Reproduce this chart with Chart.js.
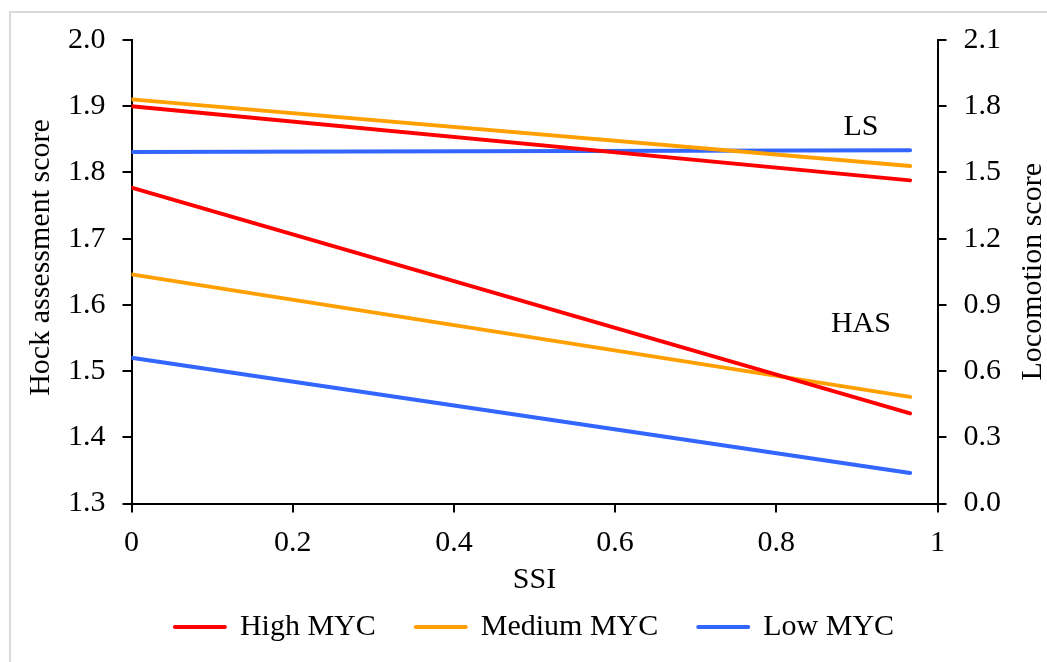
<!DOCTYPE html>
<html>
<head>
<meta charset="utf-8">
<script src="https://cdn.jsdelivr.net/npm/chart.js@4/dist/chart.umd.min.js"></script>
<style>
  html, body { margin: 0; padding: 0; background: #fff; overflow: hidden; }
  #frame { position: absolute; left: 9px; top: 11px; width: 1100px; height: 700px;
           border-left: 2px solid #d9d9d9; border-top: 2px solid #d9d9d9; box-sizing: border-box; }
  #c { position: absolute; left: 0; top: 0; width: 1047px; height: 662px; }
</style>
</head>
<body>
<div id="frame"></div>
<canvas id="c" width="1047" height="662"></canvas>
<script>
// ---- data ----
const ssi = [0, 0.966];
const hasHigh = [1.777, 1.436];
const hasMedium = [1.646, 1.461];
const hasLow = [1.520, 1.346];
const lsHigh = [1.800, 1.464];
const lsMedium = [1.831, 1.529];
const lsLow = [1.592, 1.601];

const seriesNames = ['High MYC', 'Medium MYC', 'Low MYC'];
const seriesColors = ['#ff0000', '#ffa000', '#3366ff'];

const xTicks = [0, 0.2, 0.4, 0.6, 0.8, 1];
const yLeftTicks = [1.3, 1.4, 1.5, 1.6, 1.7, 1.8, 1.9, 2.0];
const yRightTicks = [0, 0.3, 0.6, 0.9, 1.2, 1.5, 1.8, 2.1];

const annotations = [
  { text: 'LS', x: 0.905, y: 1.857 },
  { text: 'HAS', x: 0.905, y: 1.559 }
];
const xTitle = 'SSI';
const yLeftTitle = 'Hock assessment score';
const yRightTitle = 'Locomotion score';

// ---- build ----
const pts = (arr) => arr.map((v, i) => ({ x: ssi[i], y: v }));
const FONT = "'Liberation Serif', 'Times New Roman', serif";
const FS = 30;

function lineDs(label, data, color, axis) {
  return {
    label, data: pts(data), yAxisID: axis,
    borderColor: color, backgroundColor: color,
    borderWidth: 4, borderCapStyle: 'round', pointRadius: 0, tension: 0, fill: false
  };
}

const datasets = [
  lineDs(seriesNames[0], hasHigh, seriesColors[0], 'y'),
  lineDs(seriesNames[1], hasMedium, seriesColors[1], 'y'),
  lineDs(seriesNames[2], hasLow, seriesColors[2], 'y'),
  lineDs(seriesNames[0] + ' LS', lsHigh, seriesColors[0], 'y2'),
  lineDs(seriesNames[1] + ' LS', lsMedium, seriesColors[1], 'y2'),
  lineDs(seriesNames[2] + ' LS', lsLow, seriesColors[2], 'y2')
];

const axisStyle = {
  border: { display: true, color: '#000', width: 2 },
  grid: { display: true, drawOnChartArea: false, drawTicks: true, tickLength: 9, color: '#000', tickWidth: 2, lineWidth: 2 },
};

const overlay = {
  id: 'overlay',
  afterDraw(chart) {
    const { ctx, scales, chartArea } = chart;
    ctx.save();
    ctx.fillStyle = '#000';
    ctx.font = FS + 'px ' + FONT;
    ctx.textAlign = 'center';
    ctx.textBaseline = 'alphabetic';
    annotations.forEach(a => {
      ctx.fillText(a.text, scales.x.getPixelForValue(a.x), scales.y.getPixelForValue(a.y));
    });
    ctx.textBaseline = 'middle';
    // left axis title
    ctx.save();
    ctx.translate(41.5, 257.5);
    ctx.rotate(-Math.PI / 2);
    ctx.fillText(yLeftTitle, 0, 0);
    ctx.restore();
    // right axis title
    ctx.save();
    ctx.translate(1033, (chartArea.top + chartArea.bottom) / 2);
    ctx.rotate(-Math.PI / 2);
    ctx.fillText(yRightTitle, 0, 0);
    ctx.restore();
    ctx.restore();
  }
};

Chart.defaults.font.family = FONT;
Chart.defaults.font.size = FS;
Chart.defaults.color = '#000';

new Chart(document.getElementById('c'), {
  type: 'line',
  data: { datasets },
  options: {
    responsive: false,
    animation: false,
    devicePixelRatio: 1,
    layout: { padding: { left: 0, right: 0, top: 40, bottom: 10 } },
    plugins: {
      tooltip: { enabled: false },
      legend: {
        position: 'bottom',
        fullSize: false,
        labels: {
          font: { family: FONT, size: FS },
          color: '#000',
          padding: 40,
          usePointStyle: true,
          pointStyleWidth: 50,
          generateLabels: () => seriesNames.map((n, i) => ({
            text: n, fillStyle: seriesColors[i], strokeStyle: seriesColors[i],
            lineWidth: 4, lineCap: 'round', pointStyle: 'line', hidden: false, datasetIndex: i
          }))
        }
      }
    },
    scales: {
      x: {
        type: 'linear', min: 0, max: 1,
        ...axisStyle,
        afterBuildTicks: (s) => { s.ticks = xTicks.map(v => ({ value: v })); },
        ticks: { padding: 13, font: { size: FS }, color: '#000', callback: (v) => String(v) },
        title: { display: true, text: xTitle, font: { size: FS }, color: '#000', padding: { top: 0, bottom: -26 } },
        afterFit: (s) => { s.height = 68.5; }
      },
      y: {
        type: 'linear', position: 'left', min: 1.3, max: 2.0,
        ...axisStyle,
        afterBuildTicks: (s) => { s.ticks = yLeftTicks.map(v => ({ value: v })); },
        ticks: { padding: 17, font: { size: FS }, color: '#000', callback: (v) => Number(v).toFixed(1) },
        afterFit: (s) => { s.width = 131.5; }
      },
      y2: {
        type: 'linear', position: 'right', min: 0, max: 2.1,
        ...axisStyle,
        afterBuildTicks: (s) => { s.ticks = yRightTicks.map(v => ({ value: v })); },
        ticks: { padding: 17, font: { size: FS }, color: '#000', callback: (v) => Number(v).toFixed(1) },
        afterFit: (s) => { s.width = 109.5; }
      }
    }
  },
  plugins: [overlay]
});
</script>
</body>
</html>
